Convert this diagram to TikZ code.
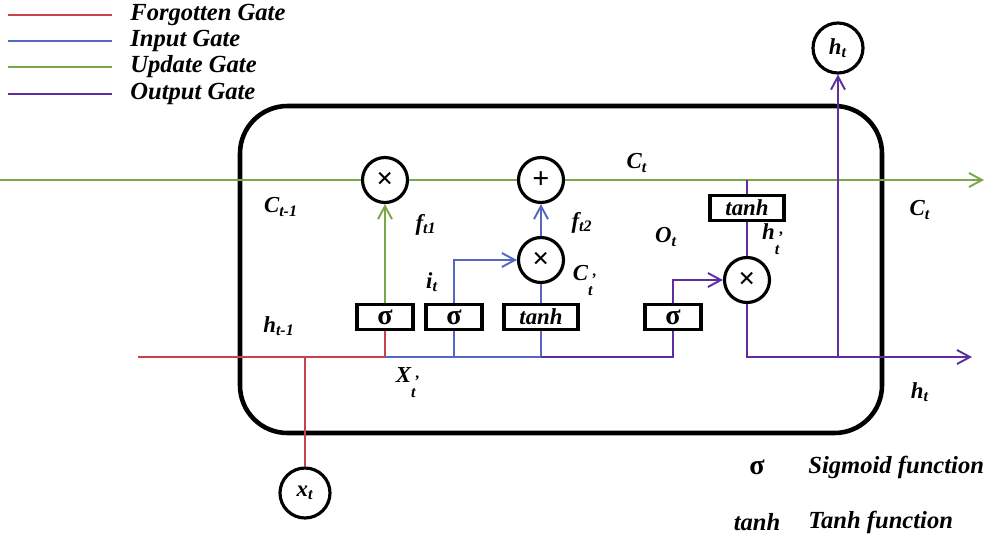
\documentclass[tikz,border=0pt]{standalone}
\usepackage{fontspec}
\setmainfont{Liberation Serif}
\usepackage{xcolor}
\usetikzlibrary{arrows.meta,positioning,calc}
\definecolor{fgt}{HTML}{C8414E}
\definecolor{inp}{HTML}{5566C4}
\definecolor{upd}{HTML}{78A84A}
\definecolor{outg}{HTML}{5E2E9E}
\newcommand{\bi}{\bfseries\itshape}
\newcommand{\vsub}[2]{#1\textsubscript{#2}}
\newcommand{\vsubp}[2]{#1\textsubscript{\vbox{\offinterlineskip\hbox{\,'}\kern1.5pt\hbox{#2}}}}
\tikzset{
  wire/.style={line width=1.3pt},
  ar/.style={wire, -{Straight Barb[length=2.6mm,width=2.8mm,line width=1.1pt]}},
  cell/.style={draw=black, line width=2.6pt, rounded corners=0.95cm},
  op/.style={circle, draw, line width=1.8pt, fill=white, minimum size=0.9cm,
             inner sep=0pt, font=\fontsize{17}{17}\selectfont\bfseries},
  io/.style={circle, draw, line width=1.8pt, fill=white, minimum size=1cm,
             inner sep=0pt, font=\fontsize{13}{13}\selectfont\bi},
  fn/.style={draw, line width=2.2pt, fill=white, minimum width=1.12cm,
             minimum height=0.5cm, inner sep=0pt,
             font=\fontsize{13}{13}\selectfont\bi},
  sg/.style={fn, font=\fontsize{16}{16}\selectfont\bfseries},
  th/.style={fn, minimum width=1.48cm},
  lbl/.style={font=\fontsize{13}{14}\selectfont\bi, inner sep=0pt},
  key/.style={font=\fontsize{14}{16}\selectfont\bi, anchor=west, inner sep=0pt},
}
\begin{document}
\begin{tikzpicture}[x=0.02cm, y=-0.02cm]
\useasboundingbox (0,0) rectangle (995,538);

% legend
\coordinate (kf) at (8,15);
\coordinate (ki) at (8,41);
\coordinate (ku) at (8,67);
\coordinate (ko) at (8,94);
\draw[wire, fgt]  (kf) -- ++(104,0);
\draw[wire, inp]  (ki) -- ++(104,0);
\draw[wire, upd]  (ku) -- ++(104,0);
\draw[wire, outg] (ko) -- ++(104,0);
\node[key] (kft) at (130,15) {Forgotten Gate};
\node[key] (kit) at (130,41) {Input Gate};
\node[key] (kut) at (130,67) {Update Gate};
\node[key] (kot) at (130,94) {Output Gate};

% cell
\draw[cell] (240,106) rectangle (882,433);

% operators and functions
\node[op] (mul1) at (385,180) {×};
\node[op] (add)  at (541,180) {+};
\node[op] (mul2) at (541,260) {×};
\node[op] (mul3) at (747,280) {×};
\node[sg] (sg1) at (385,317) {σ};
\node[sg] (sg2) at (454,317) {σ};
\node[th] (th1) at (541,317) {tanh};
\node[sg] (sg3) at (673,317) {σ};
\node[th] (th2) at (747,208) {tanh};
\node[io] (ht) at (838,48) {\vsub{h}{t}};
\node[io] (xt) at (305,493) {\vsub{x}{t}};

\coordinate (cin)  at (0,180);
\coordinate (cout) at (984,180);
\coordinate (tap)  at (747,180);
\coordinate (hin)  at (138,357);
\coordinate (jx)   at (305,357);
\coordinate (jf)   at (385,357);
\coordinate (ji)   at (454,357);
\coordinate (jc)   at (541,357);
\coordinate (jo)   at (673,357);
\coordinate (jh)   at (838,357);
\coordinate (hout) at (972,357);

% cell state
\draw[wire, upd] (cin) -- (mul1);
\draw[wire, upd] (mul1) -- (add);
\draw[ar, upd] (add) -- (cout);

% forgotten gate
\draw[wire, fgt] (hin) -- (jf) -- (sg1);
\draw[wire, fgt] (xt) -- (jx);
\draw[ar, upd] (sg1) -- (mul1);

% input gate
\draw[wire, inp] (jf) -- (jc);
\draw[wire, inp] (ji) -- (sg2);
\draw[wire, inp] (jc) -- (th1);
\draw[ar, inp] (sg2) |- (mul2);
\draw[wire, inp] (th1) -- (mul2);
\draw[ar, inp] (mul2) -- (add);

% output gate
\draw[wire, outg] (jc) -- (jo) -- (sg3);
\draw[ar, outg] (sg3) |- (mul3);
\draw[wire, outg] (tap) -- (th2);
\draw[wire, outg] (th2) -- (mul3);
\draw[ar, outg] (mul3) |- (hout);
\draw[ar, outg] (jh) -- (ht);

% labels
\node[lbl] (lct)  at (637,163) {\vsub{C}{t}};
\node[lbl] (lcp)  at (281,207) {\vsub{C}{t-1}};
\node[lbl] (lf1)  at (426,225) {\vsub{f}{t1}};
\node[lbl] (lf2)  at (582,223) {\vsub{f}{t2}};
\node[lbl] (lit)  at (432,282) {\vsub{i}{t}};
\node[lbl] (lcc)  at (585,281) {\vsubp{C}{t}};
\node[lbl] (lot)  at (666,237) {\vsub{O}{t}};
\node[lbl] (lhh)  at (773,239) {\vsubp{h}{t}};
\node[lbl] (lcr)  at (920,210) {\vsub{C}{t}};
\node[lbl] (lhp)  at (279,326) {\vsub{h}{t-1}};
\node[lbl] (lxx)  at (408,383) {\vsubp{X}{t}};
\node[lbl] (lhr)  at (920,392) {\vsub{h}{t}};

% function key
\node[font=\fontsize{16}{16}\selectfont\bfseries, inner sep=0pt] (ksg) at (757,467) {σ};
\node[key] (ksgt) at (808,467) {Sigmoid function};
\node[font=\fontsize{14}{16}\selectfont\bi, inner sep=0pt] (kth) at (757,522) {tanh};
\node[key] (ktht) at (808,522) {Tanh function};
\end{tikzpicture}
\end{document}
